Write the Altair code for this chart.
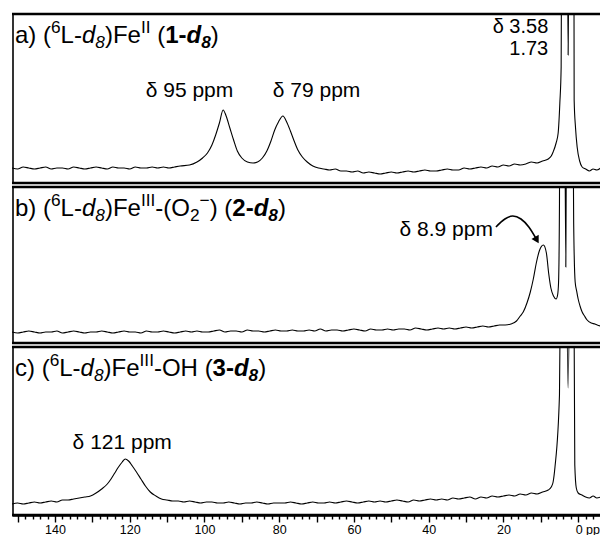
import altair as alt
import pandas as pd

# ---------------- data (ppm, relative intensity) ----------------
a_ppm = [151.5, 150, 148.5, 147, 145.5, 144, 142.5, 141, 139.5, 138, 136.5, 135, 133.5, 132, 130.5, 129,
         127.5, 126, 124.5, 123, 121.5, 120, 118.5, 117, 115.5, 114, 112.5, 111, 109.5, 108, 106.5,
         104, 102, 100.5, 99.2, 98, 97, 96, 95, 94.2, 93.2, 92.2, 91.2, 90, 88.5, 87, 85.8, 84.5, 83.3,
         82.2, 81.2, 80.2, 79, 78, 77, 76, 75, 73.8, 72.5, 71,
         69.5, 68, 66.5, 65, 63.5, 62, 60.5, 59, 57.5, 56, 54.5, 53, 51.5, 50, 48.5, 47, 45.5, 44, 42.5, 41,
         39.5, 38, 36.5, 35, 33.5, 32, 30.5, 29, 27.5, 26, 24.5, 23, 21.5, 20, 18.5, 17, 15.5, 14, 12.5, 11,
         9.5, 8,
         7.2, 6.7, 5.9, 5.35, 4.9, 4.55, 4.3, 3.58, 3.0, 2.68, 2.3, 1.73, 1.2, 1.07, 0.7, 0.27, -0.4, -1.07,
         -2, -3, -4, -5, -6]
a_int = [15, 14, 16, 15, 14, 15, 16, 14, 15, 15, 14, 16, 15, 14, 15, 16,
         15, 14, 16, 15, 15, 14, 16, 15, 15, 16, 15, 16, 15, 16, 17,
         18, 21, 25, 30, 38, 48, 60, 73, 67, 55, 43, 32, 25, 21, 20, 21, 25, 32,
         42, 53, 61, 67, 61, 52, 42, 33, 26, 21, 17,
         15, 14, 13, 14, 12, 12, 11, 12, 10, 11, 10, 9, 10, 11, 10, 11, 12, 11, 12, 13,
         12, 12, 13, 14, 13, 13, 15, 14, 15, 16, 15, 17, 16, 18, 17, 19, 18, 19, 21, 20,
         22, 24,
         27, 31, 40, 50, 80, 116, 400, 700, 350, 128, 350, 700, 400, 83, 55, 36, 22, 16,
         14, 12, 14, 13, 15]

b_ppm = [151.5 - 1.5 * k for k in range(90)] + [
    16.5, 15.5, 14.7, 13.7, 12.8, 12, 11.2, 10.4, 9.3, 8.5, 7.9, 7.3, 6.6, 5.9, 5.5, 5.25, 5.0, 4.8, 4.2,
    3.75, 3.3, 2.95, 2.3, 1.6, 1.2, 0.8, 0.4, 0, -0.5, -1.07, -1.7, -2.4, -3.5, -4.5, -5.1, -6]
b_int = [11, 10, 11, 12, 11, 10, 11, 11, 12, 10,
         11, 12, 11, 10, 11, 11, 12, 11, 10, 11,
         12, 11, 11, 10, 12, 11, 11, 12, 11, 10,
         11, 12, 11, 12, 11, 11, 12, 13, 11, 12,
         12, 11, 13, 12, 12, 11, 12, 13, 12, 12,
         13, 12, 12, 13, 12, 14, 12, 13, 13, 12,
         13, 14, 13, 12, 14, 13, 13, 14, 13, 14,
         14, 13, 15, 14, 13, 14, 15, 14, 15, 14,
         15, 16, 15, 16, 17, 16, 17, 18, 18, 19] + [
    22, 27, 31, 40, 51, 64, 80, 92, 98, 90, 70, 55, 47, 44, 48, 60, 140, 400, 700,
    400, 76, 400, 700, 400, 120, 61, 52, 44, 37, 31, 27, 23, 20, 19, 18, 17]

c_ppm = [151.5, 150, 148.5, 147, 145.5, 144, 142.5, 141, 139.5, 138, 136.5, 135, 133.5, 132, 130.5,
         129, 127.5, 126, 125, 124, 123, 122, 121.2, 120.3, 119.3, 118.2, 117, 115.8, 114.5, 113, 111.5] + \
        [110 - 1.5 * k for k in range(69)] + \
        [7.2, 6.7, 6.2, 5.0, 4.6, 3.8, 3.2, 2.7, 2.2, 1.73, 1.2, 0.9, 0.5, 0, -1, -2, -3, -4, -5, -6]
c_int = [11, 12, 11, 12, 13, 12, 13, 14, 13, 15, 15, 16, 17, 18, 19,
         22, 26, 31, 36, 42, 48, 53, 56, 54, 49, 43, 36, 29, 23, 19, 16] + \
        [15, 14, 14, 13, 14, 13, 12, 13, 13, 12,
         12, 13, 12, 11, 12, 12, 13, 12, 11, 12,
         12, 12, 13, 12, 11, 12, 13, 12, 12, 13,
         12, 13, 14, 13, 12, 13, 14, 13, 14, 13,
         14, 15, 14, 13, 15, 14, 15, 16, 15, 16,
         15, 17, 16, 17, 18, 16, 18, 17, 19, 18,
         19, 20, 19, 21, 20, 22, 21, 23, 25] + \
        [28, 33, 48, 120, 300, 700, 300, 127, 300, 700, 300, 50, 27, 22, 20, 18, 17, 19, 17, 18]

arrow_ppm = [22.0, 19.6, 17.5, 15.3, 13.2, 11.2]
arrow_int = [116, 124, 127, 124, 116, 104]

# ---------------- layout helpers ----------------
FONT = "Liberation Sans"
W = 588
HEIGHTS = [169, 156, 168]
X_DOMAIN = [151.5, 151.5 - W / 3.737]

REG = {' ': 278, '(': 333, ')': 333, '-': 333, 'I': 278, 'F': 611, 'O': 778, 'H': 722, 'L': 556,
       'c': 500, '\u2212': 584}
BOLD = {' ': 278, '(': 333, ')': 333, '-': 333, 'd': 611}


def tw(s, bold):
    t = BOLD if bold else REG
    return sum(t.get(ch, 556) for ch in s) / 1000.0


dummy = pd.DataFrame({"d": [0]})


def rich(segs, x0, y0, base):
    out = []
    x = x0
    for txt, fl in segs:
        bold = 'b' in fl
        ital = 'i' in fl
        if '^' in fl:
            size, dy = base * 0.72, -base * 0.40
        elif '_' in fl:
            size, dy = base * 0.72, base * 0.20
        else:
            size, dy = base, 0
        lead = len(txt) - len(txt.lstrip(' '))
        x += lead * 0.278 * size
        txt = txt.lstrip(' ')
        out.append(
            alt.Chart(dummy).mark_text(
                text=txt, align='left', baseline='alphabetic', font=FONT, fontSize=size,
                fontStyle='italic' if ital else 'normal', fontWeight='bold' if bold else 'normal',
                color='black'
            ).encode(x=alt.value(x), y=alt.value(y0 + dy))
        )
        x += tw(txt, bold) * size
    return out


title_a = [("a) (", ""), ("6", "^"), ("L-", ""), ("d", "i"), ("8", "i_"), (")Fe", ""), ("II", "^"),
           (" (", ""), ("1-", "b"), ("d", "bi"), ("8", "bi_"), (")", "")]
title_b = [("b) (", ""), ("6", "^"), ("L-", ""), ("d", "i"), ("8", "i_"), (")Fe", ""), ("III", "^"),
           ("-(O", ""), ("2", "_"), ("\u2212", "^"), (")", ""), (" (", ""), ("2-", "b"), ("d", "bi"),
           ("8", "bi_"), (")", "")]
title_c = [("c) (", ""), ("6", "^"), ("L-", ""), ("d", "i"), ("8", "i_"), (")Fe", ""), ("III", "^"),
           ("-OH", ""), (" (", ""), ("3-", "b"), ("d", "bi"), ("8", "bi_"), (")", "")]

xaxis = alt.Axis(
    values=list(range(-4, 152, 2)),
    labelExpr="datum.value % 20 === 0 ? (datum.value === 0 ? '0 ppm' : datum.label) : ''",
    tickSize={"condition": {"test": "datum.value % 10 === 0", "value": 7}, "value": 4},
    labelAlign={"condition": {"test": "datum.value === 0", "value": "left"}, "value": "center"},
    labelOffset={"condition": {"test": "datum.value === 0", "value": -3}, "value": 0},
    labelOverlap=False, labelBound=False, labelFlush=False,
    labelFont=FONT, labelFontSize=12.5, labelColor="black", labelPadding=1,
    domainColor="black", domainWidth=2.5, tickColor="black", tickWidth=1.4,
    grid=False, title=None,
)


def borders(h):
    return [
        alt.Chart(dummy).mark_rule(color="black", strokeWidth=2.4).encode(
            x=alt.value(0), x2=alt.value(W), y=alt.value(0)),
        alt.Chart(dummy).mark_rule(color="black", strokeWidth=2.4).encode(
            x=alt.value(0), x2=alt.value(W), y=alt.value(h)),
        alt.Chart(dummy).mark_rule(color="black", strokeWidth=1.6).encode(
            x=alt.value(1), y=alt.value(0), y2=alt.value(h)),
    ]


def panel(ppm, inten, h, texts, title_segs, show_axis, extra=None):
    xs = alt.Scale(domain=X_DOMAIN, nice=False, zero=False)
    ys = alt.Scale(domain=[0, h], nice=False, zero=False)
    xax = xaxis if show_axis else None
    df = pd.DataFrame({"ppm": ppm, "i": inten, "o": list(range(len(ppm)))})
    line = alt.Chart(df).mark_line(color="black", strokeWidth=1.1, clip=True,
                                   interpolate="monotone").encode(
        x=alt.X("ppm:Q", scale=xs, axis=xax),
        y=alt.Y("i:Q", scale=ys, axis=None),
        order="o:Q",
    )
    layers = [line]
    for (tx, ty, t, al, fs) in texts:
        layers.append(
            alt.Chart(pd.DataFrame({"x": [tx], "y": [ty], "t": [t]})).mark_text(
                align=al, baseline="alphabetic", font=FONT, fontSize=fs, color="black"
            ).encode(
                x=alt.X("x:Q", scale=xs, axis=xax),
                y=alt.Y("y:Q", scale=ys, axis=None),
                text="t:N",
            )
        )
    if extra is not None:
        for e in extra:
            layers.append(e(xs, ys, xax))
    layers += borders(h)
    layers += rich(title_segs, 3, 29, 24)
    return alt.layer(*layers).properties(width=W, height=h)


def arrow_line(xs, ys, xax):
    df = pd.DataFrame({"ppm": arrow_ppm, "i": arrow_int, "o": list(range(len(arrow_ppm)))})
    return alt.Chart(df).mark_line(color="black", strokeWidth=1.6, interpolate="monotone").encode(
        x=alt.X("ppm:Q", scale=xs, axis=xax), y=alt.Y("i:Q", scale=ys, axis=None), order="o:Q")


def arrow_head(xs, ys, xax):
    df = pd.DataFrame({"ppm": [arrow_ppm[-1]], "i": [arrow_int[-1]]})
    return alt.Chart(df).mark_point(shape="triangle", filled=True, color="black", size=70,
                                    angle=150, opacity=1).encode(
        x=alt.X("ppm:Q", scale=xs, axis=xax), y=alt.Y("i:Q", scale=ys, axis=None))


pa = panel(a_ppm, a_int, HEIGHTS[0],
           [(104, 86, "\u03b4 95 ppm", "center", 21), (70, 86, "\u03b4 79 ppm", "center", 21),
            (8.0, 150, "\u03b4 3.58", "right", 20), (8.0, 128, "1.73", "right", 20)],
           title_a, False)
pb = panel(b_ppm, b_int, HEIGHTS[1],
           [(22.8, 107, "\u03b4 8.9 ppm", "right", 21)],
           title_b, False, extra=[arrow_line, arrow_head])
pc = panel(c_ppm, c_int, HEIGHTS[2],
           [(122, 66, "\u03b4 121 ppm", "center", 21)],
           title_c, True)

chart = alt.vconcat(pa, pb, pc, spacing=0).properties(
    padding={"left": 2, "top": 4, "right": -10, "bottom": 0},
    background="white",
).configure_view(stroke="transparent", strokeWidth=0)

chart.save("out.html", embed_options={"renderer": "svg", "actions": False})
